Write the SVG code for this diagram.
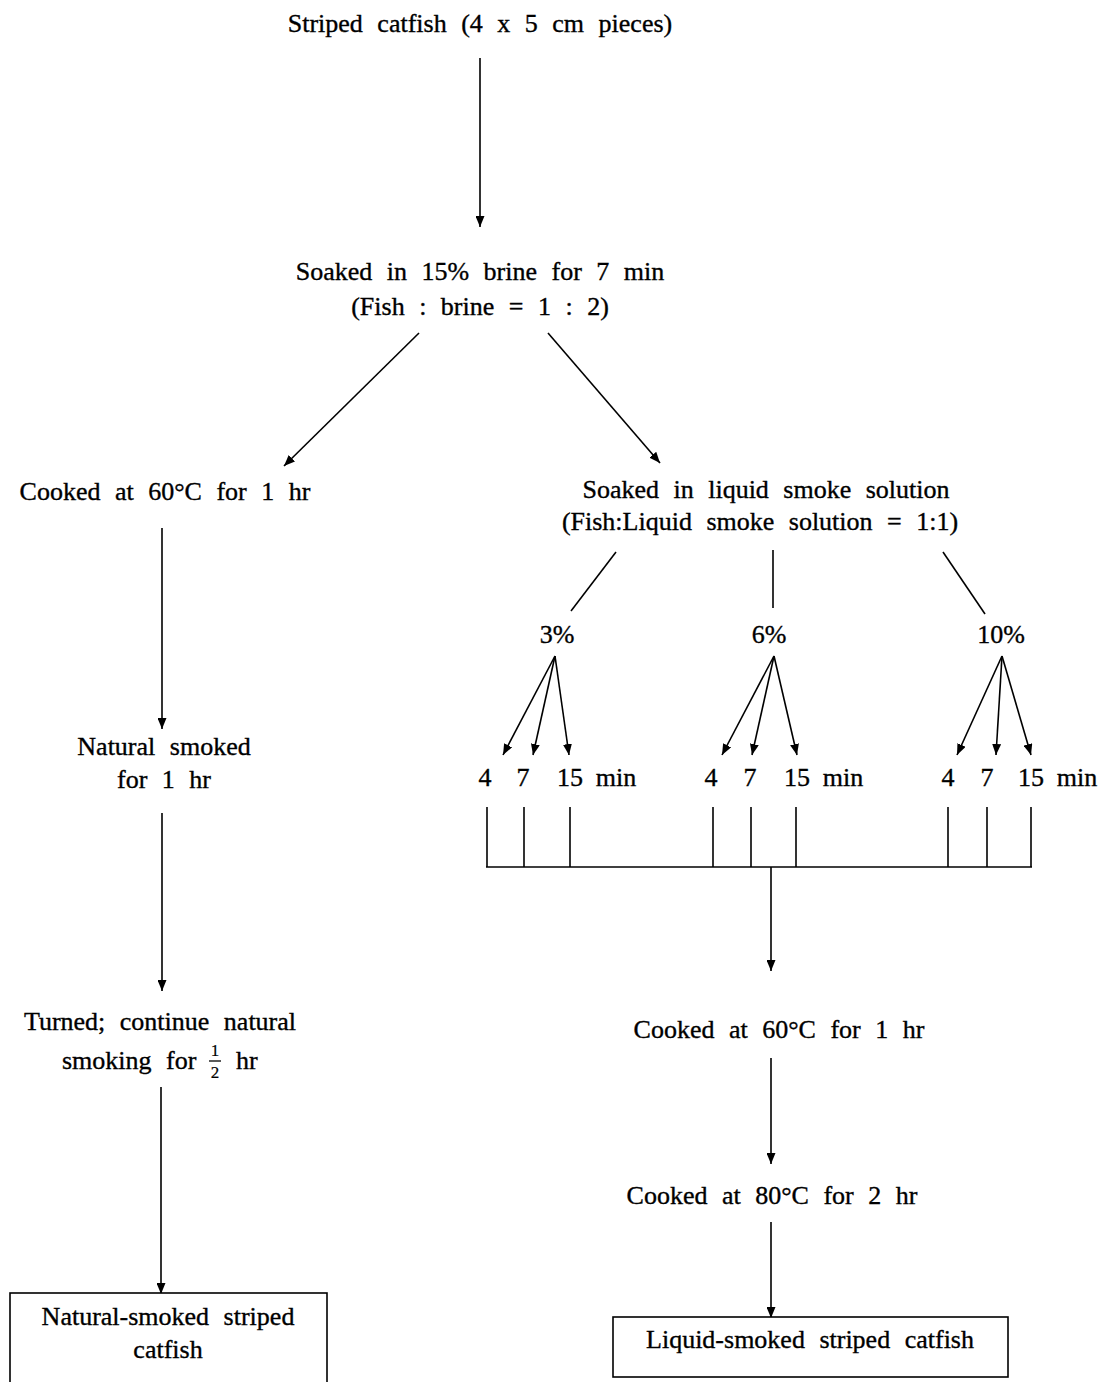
<svg xmlns="http://www.w3.org/2000/svg" width="1102" height="1382" viewBox="0 0 1102 1382">
<style>
text{font-family:"Liberation Serif","Times New Roman",serif;font-size:26px;fill:#000;stroke:#000;stroke-width:0.35;text-anchor:middle;word-spacing:8px}
.s{text-anchor:start}
.f{font-size:17px;word-spacing:0;stroke-width:0.2}
.c line,.c path{stroke:#000;stroke-width:1.6;fill:none}
.a{marker-end:url(#ah)}
.box{fill:#fff;stroke:#000;stroke-width:1.6}
</style>
<defs>
<marker id="ah" viewBox="0 0 11 9" refX="11" refY="4.5" markerWidth="11" markerHeight="9" markerUnits="userSpaceOnUse" orient="auto">
<path d="M0,0 L11,4.5 L0,9 Z" fill="#000"/>
</marker>
</defs>
<rect x="0" y="0" width="1102" height="1382" fill="#fff"/>
<g class="c" id="connectors">
<line class="a" x1="480" y1="58" x2="480" y2="227"/>
<line class="a" x1="419" y1="333" x2="284" y2="466"/>
<line class="a" x1="548" y1="333" x2="660" y2="463"/>
<line class="a" x1="162" y1="528" x2="162" y2="729"/>
<line class="a" x1="162" y1="813" x2="162" y2="991"/>
<line class="a" x1="161" y1="1087" x2="161" y2="1294"/>
<line x1="616" y1="552" x2="571" y2="611"/>
<line x1="773" y1="550" x2="773" y2="608"/>
<line x1="943" y1="552" x2="985" y2="614"/>
<line class="a" x1="555" y1="656" x2="503" y2="755"/>
<line class="a" x1="555" y1="656" x2="533" y2="755"/>
<line class="a" x1="555" y1="656" x2="569" y2="755"/>
<line class="a" x1="774" y1="656" x2="722" y2="755"/>
<line class="a" x1="774" y1="656" x2="752" y2="755"/>
<line class="a" x1="774" y1="656" x2="797" y2="755"/>
<line class="a" x1="1002" y1="656" x2="957" y2="755"/>
<line class="a" x1="1002" y1="656" x2="996" y2="755"/>
<line class="a" x1="1002" y1="656" x2="1031" y2="755"/>
<line x1="487" y1="807" x2="487" y2="867"/>
<line x1="524" y1="807" x2="524" y2="867"/>
<line x1="570" y1="807" x2="570" y2="867"/>
<line x1="713" y1="807" x2="713" y2="867"/>
<line x1="751" y1="807" x2="751" y2="867"/>
<line x1="796" y1="807" x2="796" y2="867"/>
<line x1="948" y1="807" x2="948" y2="867"/>
<line x1="987" y1="807" x2="987" y2="867"/>
<line x1="1031" y1="807" x2="1031" y2="867"/>
<line x1="486" y1="867" x2="1032" y2="867"/>
<line class="a" x1="771" y1="867" x2="771" y2="971"/>
<line class="a" x1="771" y1="1058" x2="771" y2="1164"/>
<line class="a" x1="771" y1="1222" x2="771" y2="1318"/>
</g>
<g id="n-start"><text x="480" y="32">Striped catfish (4 x 5 cm pieces)</text></g>
<g id="n-brine"><text x="480" y="280">Soaked in 15% brine for 7 min</text><text x="480" y="315">(Fish : brine = 1 : 2)</text></g>
<g id="n-cook-left"><text x="165" y="500">Cooked at 60°C for 1 hr</text></g>
<g id="n-liquid"><text x="766" y="498">Soaked in liquid smoke solution</text><text x="760" y="530">(Fish:Liquid smoke solution = 1:1)</text></g>
<g id="n-3"><text x="557" y="643">3%</text></g>
<g id="n-6"><text x="769" y="643">6%</text></g>
<g id="n-10"><text x="1001" y="643">10%</text></g>
<g id="n-3-times"><text x="485" y="786">4</text><text x="523" y="786">7</text><text x="570" y="786">15</text><text x="616" y="786">min</text></g>
<g id="n-6-times"><text x="711" y="786">4</text><text x="750" y="786">7</text><text x="797" y="786">15</text><text x="843" y="786">min</text></g>
<g id="n-10-times"><text x="948" y="786">4</text><text x="987" y="786">7</text><text x="1031" y="786">15</text><text x="1077" y="786">min</text></g>
<g id="n-natural"><text x="164" y="755">Natural smoked</text><text x="164" y="788">for 1 hr</text></g>
<g id="n-turned"><text x="160" y="1030">Turned; continue natural</text><text class="s" x="62" y="1069">smoking for</text><text class="f" x="215" y="1056">1</text><line x1="209" y1="1061" x2="221" y2="1061" stroke="#000" stroke-width="1.3"/><text class="f" x="215" y="1078">2</text><text class="s" x="236" y="1069">hr</text></g>
<g id="n-natural-out"><rect class="box" x="10" y="1293" width="317" height="100"/><text x="168" y="1325">Natural-smoked striped</text><text x="168" y="1358">catfish</text></g>
<g id="n-cook60"><text x="779" y="1038">Cooked at 60°C for 1 hr</text></g>
<g id="n-cook80"><text x="772" y="1204">Cooked at 80°C for 2 hr</text></g>
<g id="n-liquid-out"><rect class="box" x="613" y="1317" width="395" height="60"/><text x="810" y="1348">Liquid-smoked striped catfish</text></g>
</svg>
